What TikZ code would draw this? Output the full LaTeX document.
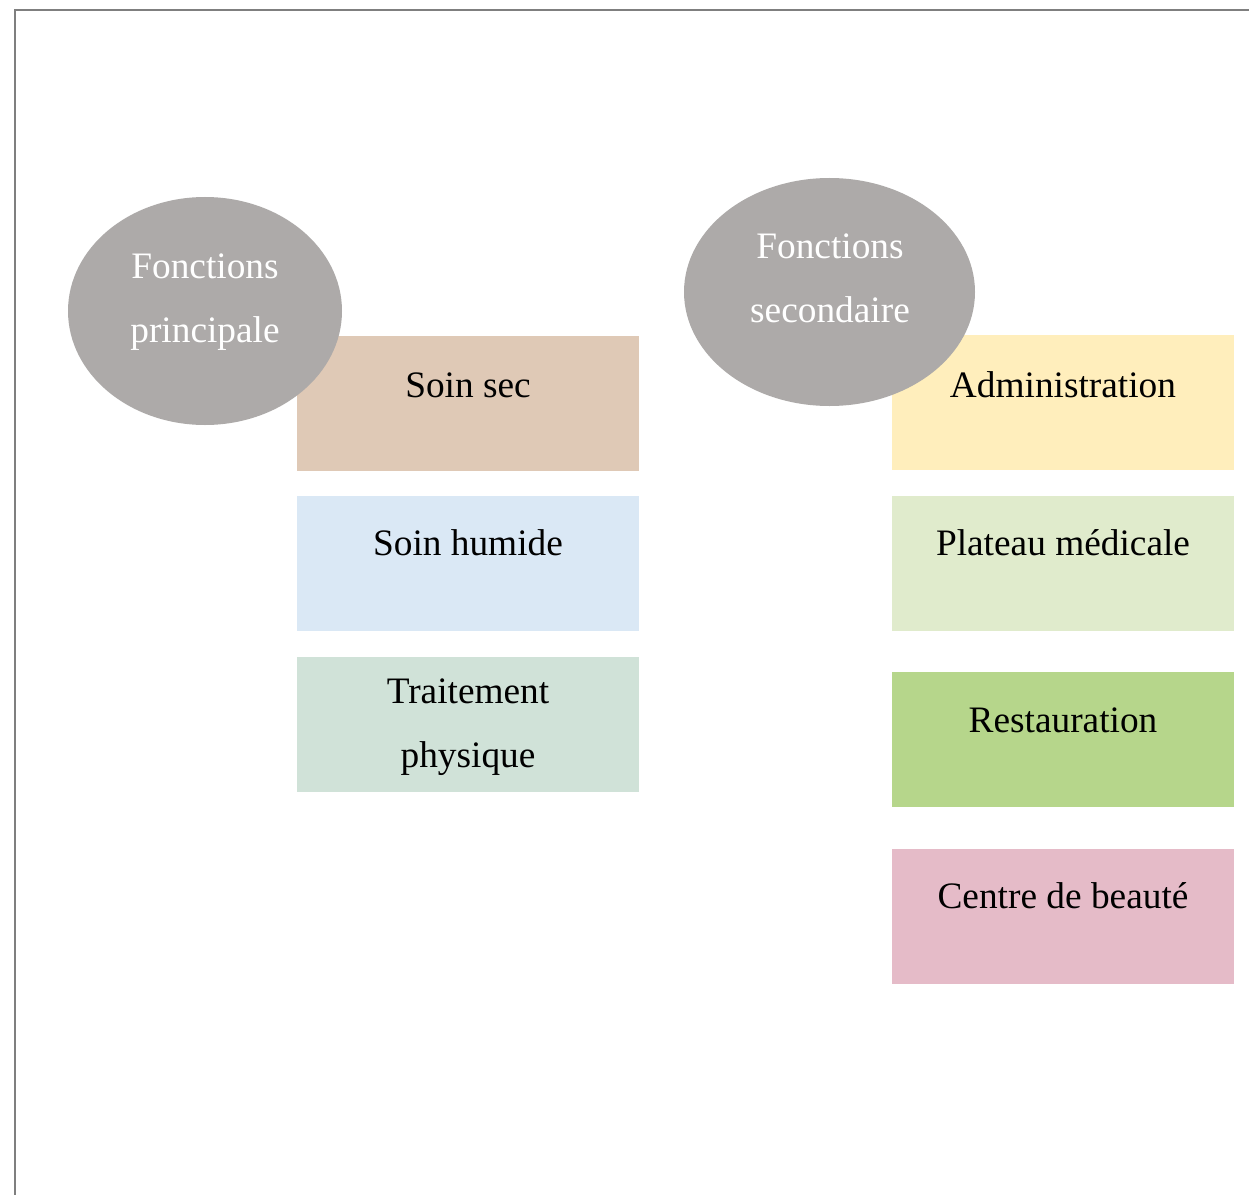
\documentclass[tikz,border=0pt]{standalone}
\usepackage{fontspec}
\setmainfont{Liberation Serif}
\usetikzlibrary{shapes.geometric}
\definecolor{ellgray}{HTML}{ADAAA9}
\definecolor{cSec}{HTML}{DFC9B6}
\definecolor{cHum}{HTML}{DAE8F5}
\definecolor{cTrt}{HTML}{D0E2D8}
\definecolor{cAdm}{HTML}{FFEEBC}
\definecolor{cPla}{HTML}{E0EBCC}
\definecolor{cRes}{HTML}{B6D68B}
\definecolor{cCen}{HTML}{E5BBC8}
\definecolor{frame}{HTML}{7F7F7F}
\tikzset{
  box/.style={rectangle, draw=none, inner sep=0pt, minimum width=256.5pt, minimum height=101.25pt},
  blob/.style={ellipse, fill=ellgray, draw=none, inner sep=0pt},
  lbl/.style={anchor=base, inner sep=0pt, font=\fontsize{28}{34}\selectfont},
  wlbl/.style={lbl, text=white},
}
\begin{document}
\begin{tikzpicture}[x=0.75pt,y=-0.75pt]
\useasboundingbox (0,0) rectangle (1249,1195);
\fill[white] (0,0) rectangle (1249,1195);
\coordinate (fb) at (15,1195);
\coordinate (fc) at (15,10);
\coordinate (fr) at (1249,10);
\draw[frame, line width=1.5pt] (fb) -- (fc) -- (fr);
% left boxes
\node[box, fill=cSec] (sec) at (468,403.5) {};
\node[box, fill=cHum] (hum) at (468,563.5) {};
\node[box, fill=cTrt] (trt) at (468,724.5) {};
% right boxes
\node[box, fill=cAdm] (adm) at (1063,402.5) {};
\node[box, fill=cPla] (pla) at (1063,563.5) {};
\node[box, fill=cRes] (res) at (1063,739.5) {};
\node[box, fill=cCen] (cen) at (1063,916.5) {};
% labels
\node[lbl] (tsec) at (468,397) {Soin sec};
\node[lbl] (thum) at (468,555) {Soin humide};
\node[lbl] (ttrt1) at (468,703) {Traitement};
\node[lbl] (ttrt2) at (468,767) {physique};
\node[lbl] (tadm) at (1063,397) {Administration};
\node[lbl] (tpla) at (1063,555) {Plateau médicale};
\node[lbl] (tres) at (1063,732) {Restauration};
\node[lbl] (tcen) at (1063,908) {Centre de beauté};
% ellipses
\node[blob, minimum width=205.5pt, minimum height=171pt] (fp) at (205,311) {};
\node[blob, minimum width=218.25pt, minimum height=171pt] (fs) at (829.5,292) {};
\node[wlbl] (tfp1) at (205,278) {Fonctions};
\node[wlbl] (tfp2) at (205,342) {principale};
\node[wlbl] (tfs1) at (830,258) {Fonctions};
\node[wlbl] (tfs2) at (830,322) {secondaire};
\end{tikzpicture}
\end{document}
